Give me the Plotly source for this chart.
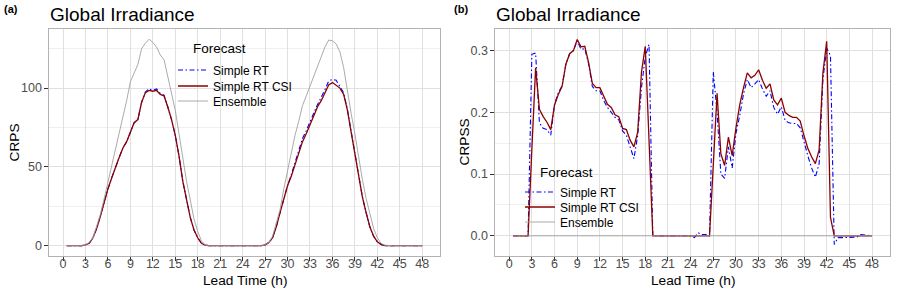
import plotly.graph_objects as go

W, H = 899, 295

lead_time = [0.5, 1.0, 1.5, 2.0, 2.5, 3.0, 3.5, 4.0, 4.5, 5.0, 5.5, 6.0, 6.5, 7.0, 7.5, 8.0,
             8.5, 9.0, 9.5, 10.0, 10.5, 11.0, 11.5, 12.0, 12.5, 13.0, 13.5, 14.0, 14.5, 15.0, 15.5, 16.0,
             16.5, 17.0, 17.5, 18.0, 18.5, 19.0, 19.5, 20.0, 20.5, 21.0, 21.5, 22.0, 22.5, 23.0, 23.5, 24.0,
             24.5, 25.0, 25.5, 26.0, 26.5, 27.0, 27.5, 28.0, 28.5, 29.0, 29.5, 30.0, 30.5, 31.0, 31.5, 32.0,
             32.5, 33.0, 33.5, 34.0, 34.5, 35.0, 35.5, 36.0, 36.5, 37.0, 37.5, 38.0, 38.5, 39.0, 39.5, 40.0,
             40.5, 41.0, 41.5, 42.0, 42.5, 43.0, 43.5, 44.0, 44.5, 45.0, 45.5, 46.0, 46.5, 47.0, 47.5, 48.0]

# Panel (a): CRPS
crps_rt = [0, 0, 0, 0, 0, 0.5, 1.5, 5, 11, 19, 28, 36, 43, 50, 56, 62,
           66, 72, 78, 80, 91, 97.5, 99.5, 98.5, 99.5, 96.5, 95.5, 88, 80, 70, 57, 41,
           29, 18, 10, 5, 1.5, 0.3, 0, 0, 0, 0, 0, 0, 0, 0, 0, 0,
           0, 0, 0, 0, 0, 0.5, 2, 5, 12, 21, 30, 38, 45, 52.5, 61, 68,
           73, 79, 84, 89.5, 94, 99, 104.5, 105.5, 105, 101, 97, 86.5, 72, 59, 45, 31,
           21, 12, 6, 2.5, 0.8, 0, 0, 0, 0, 0, 0, 0, 0, 0, 0, 0]
crps_rt_csi = [0, 0, 0, 0, 0, 0.5, 1.5, 5, 11, 19, 28, 36, 43, 50, 56, 62,
               66, 72, 78, 80, 91, 97, 98.5, 98, 98.5, 96, 95, 88, 80, 70, 57, 41,
               29, 18, 10, 5, 1.5, 0.3, 0, 0, 0, 0, 0, 0, 0, 0, 0, 0,
               0, 0, 0, 0, 0, 0.5, 2, 5, 12, 21, 30, 38, 44, 51, 59, 66,
               71, 77, 82, 88, 92, 97, 102, 103.5, 102, 100, 96, 86, 72, 59, 45, 31,
               21, 12, 6, 2.5, 0.8, 0, 0, 0, 0, 0, 0, 0, 0, 0, 0, 0]
crps_ens = [0, 0, 0, 0, 0, 0.5, 2, 5, 12, 20, 30, 40, 51, 61, 70, 80,
            92, 104, 110, 115, 125, 128.5, 131, 129, 126, 121, 118, 108, 98, 86, 71, 55,
            41, 29, 17, 9, 3, 0.5, 0, 0, 0, 0, 0, 0, 0, 0, 0, 0,
            0, 0, 0, 0, 0, 0.5, 2, 6, 14, 23, 36, 48, 60, 70, 79, 89,
            95, 101, 107, 113, 120, 126, 130.5, 130, 128, 123, 113, 98, 84, 71, 56, 42,
            30, 20, 11, 5, 1.5, 0.3, 0, 0, 0, 0, 0, 0, 0, 0, 0, 0]

# Panel (b): CRPSS
crpss_rt = [0, 0, 0, 0, 0, 0.294, 0.296, 0.183, 0.174, 0.172, 0.163, 0.213, 0.232, 0.243, 0.278, 0.295,
            0.300, 0.316, 0.302, 0.303, 0.279, 0.242, 0.235, 0.235, 0.219, 0.208, 0.200, 0.192, 0.188, 0.170, 0.163, 0.142,
            0.125, 0.162, 0.240, 0.290, 0.310, 0, 0, 0, 0, 0, 0, 0, 0, 0, 0, 0,
            -0.003, 0.005, 0.002, 0.002, 0, 0.266, 0.200, 0.100, 0.093, 0.144, 0.110, 0.166, 0.195, 0.230, 0.253, 0.240,
            0.246, 0.253, 0.238, 0.226, 0.235, 0.208, 0.197, 0.209, 0.187, 0.183, 0.182, 0.182, 0.175, 0.150, 0.130, 0.110,
            0.095, 0.117, 0.253, 0.304, 0.292, -0.014, -0.003, -0.003, -0.003, -0.003, -0.002, -0.002, 0.002, 0.001, 0, 0]
crpss_rt_csi = [0, 0, 0, 0, 0, 0.140, 0.272, 0.205, 0.193, 0.184, 0.172, 0.212, 0.229, 0.242, 0.278, 0.295,
                0.300, 0.318, 0.306, 0.307, 0.281, 0.247, 0.240, 0.240, 0.225, 0.213, 0.208, 0.196, 0.193, 0.174, 0.172, 0.155,
                0.144, 0.168, 0.265, 0.307, 0.155, 0, 0, 0, 0, 0, 0, 0, 0, 0, 0, 0,
                0, 0, 0, 0, 0, 0.115, 0.231, 0.133, 0.114, 0.160, 0.130, 0.175, 0.212, 0.240, 0.264, 0.256,
                0.260, 0.269, 0.252, 0.239, 0.246, 0.220, 0.212, 0.223, 0.200, 0.195, 0.192, 0.192, 0.186, 0.162, 0.142, 0.128,
                0.117, 0.139, 0.264, 0.315, 0.030, 0, 0, 0, 0, 0, 0, 0, 0, 0, 0, 0]
crpss_ens = [0, 0, 0, 0, 0, 0, 0, 0, 0, 0, 0, 0, 0, 0, 0, 0,
             0, 0, 0, 0, 0, 0, 0, 0, 0, 0, 0, 0, 0, 0, 0, 0,
             0, 0, 0, 0, 0, 0, 0, 0, 0, 0, 0, 0, 0, 0, 0, 0,
             0, 0, 0, 0, 0, 0, 0, 0, 0, 0, 0, 0, 0, 0, 0, 0,
             0, 0, 0, 0, 0, 0, 0, 0, 0, 0, 0, 0, 0, 0, 0, 0,
             0, 0, 0, 0, 0, 0, 0, 0, 0, 0, 0, 0, 0, 0, 0, 0]

series_names = ["Simple RT", "Simple RT CSI", "Ensemble"]
x_tick_vals = [0, 3, 6, 9, 12, 15, 18, 21, 24, 27, 30, 33, 36, 39, 42, 45, 48]
x_tick_text = ["0", "3", "6", "9", "12", "15", "18", "21", "24", "27", "30", "33", "36", "39", "42", "45", "48"]
a_y_ticks = [0, 50, 100]
a_y_text = ["0", "50", "100"]
b_y_ticks = [0.0, 0.1, 0.2, 0.3]
b_y_text = ["0.0", "0.1", "0.2", "0.3"]

FONT = "Liberation Sans, Arial, sans-serif"
BLUE, RED, GRAY = "#0000FF", "#8B0000", "#A0A0A0"
styles = [dict(color=BLUE, width=1.1, dash="5px,2.5px,1.5px,2.5px"),
          dict(color=RED, width=1.3),
          dict(color=GRAY, width=0.9)]

def px(x):
    return x / W

def py(y):
    return 1 - y / H

# one single-entry legend per trace so entries can be spaced like the reference
legend_a_rows = [70, 86, 101]
legend_b_rows = [192, 207, 222]
legend_a_left = 173
legend_b_left = 520

fig = go.Figure()
legend_layout = {}
k = 1
for panel, series_list, rows, left, xa, ya in [
        ("a", [crps_rt, crps_rt_csi, crps_ens], legend_a_rows, legend_a_left, "x", "y"),
        ("b", [crpss_rt, crpss_rt_csi, crpss_ens], legend_b_rows, legend_b_left, "x2", "y2")]:
    for name, ys, st, row in zip(series_names, series_list, styles, rows):
        lname = "legend" if k == 1 else f"legend{k}"
        fig.add_trace(go.Scatter(x=lead_time, y=ys, mode="lines", name=name, line=st,
                                 xaxis=xa, yaxis=ya, legend=lname))
        legend_layout[lname] = dict(x=px(left), y=py(row), xanchor="left", yanchor="middle",
                                    bgcolor="rgba(0,0,0,0)", borderwidth=0,
                                    font=dict(size=12, family=FONT, color="black"))
        k += 1

ydom = [py(256), py(29)]
grid_major = "#E0E0E0"
grid_minor = "#F0F0F0"
common_x = dict(range=[-1.875, 50.375], tickmode="array", tickvals=x_tick_vals, ticktext=x_tick_text,
                ticks="outside", ticklen=3.5, tickwidth=1, tickcolor="#333333",
                tickfont=dict(size=12.5, color="#4D4D4D", family=FONT), ticklabelstandoff=-8,
                showgrid=True, gridcolor=grid_major, gridwidth=1, zeroline=False,
                showline=True, mirror=True, linecolor="#B3B3B3", linewidth=1.2,
                automargin=False)
common_y = dict(tickmode="array", ticks="outside", ticklen=3.5, tickwidth=1, tickcolor="#333333",
                tickfont=dict(size=12.5, color="#4D4D4D", family=FONT),
                showgrid=True, gridcolor=grid_major, gridwidth=1, zeroline=False,
                showline=True, mirror=True, linecolor="#B3B3B3", linewidth=1.2,
                automargin=False, domain=ydom)

fig.update_layout(
    width=W, height=H, margin=dict(l=0, r=0, t=0, b=0),
    paper_bgcolor="white", plot_bgcolor="white",
    font=dict(family=FONT, color="black"),
    xaxis=dict(domain=[px(49), px(440)], anchor="y", **common_x),
    xaxis2=dict(domain=[px(495), px(890)], anchor="y2", **common_x),
    yaxis=dict(anchor="x", range=[-6.55, 137.5], tickvals=a_y_ticks, ticktext=a_y_text,
               minor=dict(tickvals=[25, 75, 125], showgrid=True, gridcolor=grid_minor, ticks=""),
               **common_y),
    yaxis2=dict(anchor="x2", range=[-0.0327, 0.335], tickvals=b_y_ticks, ticktext=b_y_text,
                minor=dict(tickvals=[-0.05, 0.05, 0.15, 0.25], showgrid=True, gridcolor=grid_minor, ticks=""),
                **common_y),
    showlegend=True,
    **legend_layout,
)

# legend background boxes (between gridlines and traces)
for (x0, y0, x1, y1) in [(185, 36, 300, 110), (534, 160, 646, 232)]:
    fig.add_shape(type="rect", xref="paper", yref="paper", x0=px(x0), x1=px(x1), y0=py(y1), y1=py(y0),
                  fillcolor="white", line=dict(width=0), layer="between")

ann = [
    dict(text="Global Irradiance", x=px(48), y=py(15), xanchor="left", font=dict(size=19)),
    dict(text="Global Irradiance", x=px(494), y=py(15), xanchor="left", font=dict(size=19)),
    dict(text="<b>(a)</b>", x=px(2), y=py(9), xanchor="left", font=dict(size=11)),
    dict(text="<b>(b)</b>", x=px(452), y=py(9), xanchor="left", font=dict(size=11)),
    dict(text="Forecast", x=px(191), y=py(48), xanchor="left", font=dict(size=13.5)),
    dict(text="Forecast", x=px(538), y=py(172), xanchor="left", font=dict(size=13.5)),
    dict(text="Lead Time (h)", x=px((49 + 440) / 2), y=py(280), xanchor="center", font=dict(size=13.7)),
    dict(text="Lead Time (h)", x=px((495 + 890) / 2), y=py(280), xanchor="center", font=dict(size=13.7)),
    dict(text="CRPS", x=px(14), y=py(142.5), xanchor="center", textangle=-90, font=dict(size=13.7)),
    dict(text="CRPSS", x=px(464), y=py(142.5), xanchor="center", textangle=-90, font=dict(size=13.7)),
]
for a in ann:
    fig.add_annotation(xref="paper", yref="paper", yanchor="middle", showarrow=False, **a)

fig.write_html("out.html", config={"displayModeBar": False},
               post_script="document.body.style.margin='0px';document.body.style.padding='0px';")
